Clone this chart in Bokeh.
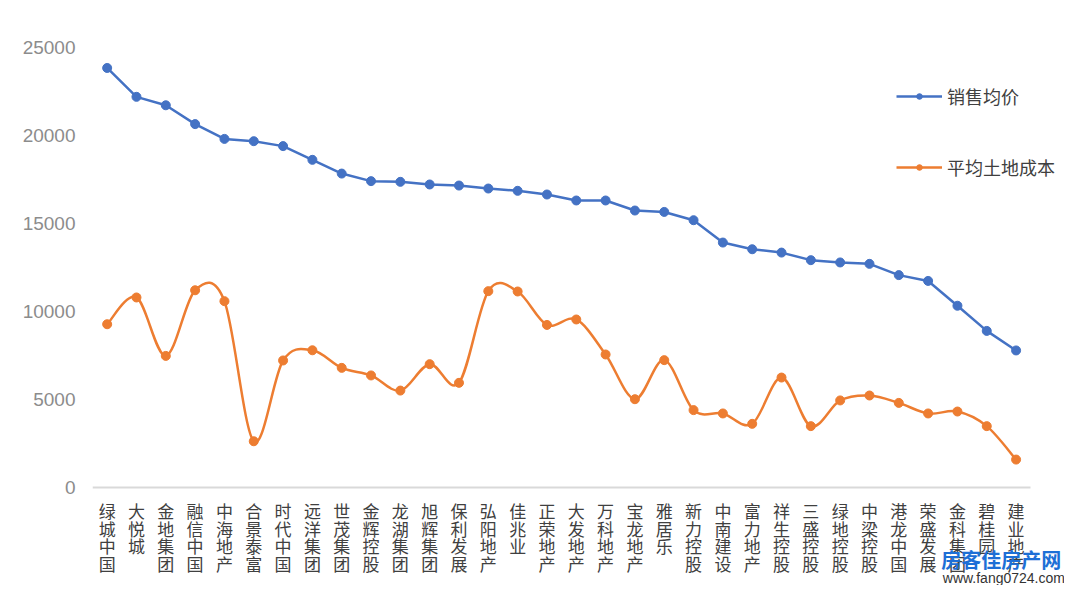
from bokeh.plotting import figure
from bokeh.models import Range1d, FixedTicker, Legend, LegendItem, Label
from bokeh.embed import file_html
from bokeh.resources import INLINE

companies = ["绿城中国", "大悦城", "金地集团", "融信中国", "中海地产", "合景泰富", "时代中国", "远洋集团",
             "世茂集团", "金辉控股", "龙湖集团", "旭辉集团", "保利发展", "弘阳地产", "佳兆业", "正荣地产",
             "大发地产", "万科地产", "宝龙地产", "雅居乐", "新力控股", "中南建设", "富力地产", "祥生控股",
             "三盛控股", "绿地控股", "中梁控股", "港龙中国", "荣盛发展", "金科集团", "碧桂园", "建业地产"]

sales_price = [23820, 22180, 21700, 20630, 19790, 19660, 19380, 18600,
               17820, 17390, 17350, 17200, 17140, 16970, 16840, 16630,
               16290, 16290, 15720, 15640, 15170, 13900, 13520, 13330,
               12900, 12770, 12690, 12050, 11720, 10310, 8880, 7770]

land_cost = [9260, 10780, 7460, 11190, 10570, 2610, 7200, 7780,
             6780, 6350, 5490, 6990, 5930, 11140, 11120, 9220,
             9530, 7540, 5000, 7220, 4380, 4190, 3600, 6230,
             3470, 4930, 5210, 4790, 4190, 4300, 3470, 1570]

y_ticks = [0, 5000, 10000, 15000, 20000, 25000]

BLUE = "#4472C4"
ORANGE = "#ED7D31"
n = len(companies)
xs = list(range(n))

W, H = 1064, 585
LEFT = 92
PX_X = 29.32          # pixels per category
PX_Y = 0.0176         # pixels per value unit
ZERO_Y = 486.7        # pixel row of value 0
x_end = -0.5 + (W - LEFT) / PX_X
y_top = ZERO_Y / PX_Y
y_bot = -(H - ZERO_Y) / PX_Y

p = figure(width=W, height=H, output_backend="svg", toolbar_location=None,
           x_range=Range1d(-0.5, x_end), y_range=Range1d(y_bot, y_top),
           min_border_left=LEFT, min_border_right=0, min_border_top=0, min_border_bottom=0)
p.outline_line_color = None
p.xgrid.visible = False
p.ygrid.visible = False
p.background_fill_color = "white"

# x axis placed at value 0 inside the frame
p.xaxis.fixed_location = 0
p.xaxis.bounds = (-0.5, n - 0.5)
p.xaxis.ticker = FixedTicker(ticks=xs)
p.xaxis.major_label_overrides = {i: "\n".join(list(c)) for i, c in enumerate(companies)}
p.xaxis.major_tick_line_color = None
p.xaxis.minor_tick_line_color = None
p.xaxis.axis_line_color = "#d9d9d9"
p.xaxis.axis_line_width = 2
p.xaxis.major_label_text_font = "Noto Sans CJK SC"
p.xaxis.major_label_text_font_size = "17px"
p.xaxis.major_label_text_color = "#404040"
p.xaxis.major_label_text_line_height = 0.7
p.xaxis.major_label_standoff = 5

# y axis
p.yaxis.ticker = FixedTicker(ticks=y_ticks)
p.yaxis.axis_line_color = None
p.yaxis.major_tick_line_color = None
p.yaxis.minor_tick_line_color = None
p.yaxis.major_label_text_font = "Liberation Sans"
p.yaxis.major_label_text_font_size = "19px"
p.yaxis.major_label_text_color = "#8c8c8c"
p.yaxis.major_label_standoff = 11

# blue straight line
bl = p.line(xs, sales_price, line_color=BLUE, line_width=2.5)
bs = p.scatter(xs, sales_price, size=9, fill_color=BLUE, line_color=BLUE)

# orange smoothed line (Catmull-Rom style bezier segments through the data points)
x0s, y0s, x1s, y1s, cx0s, cy0s, cx1s, cy1s = [], [], [], [], [], [], [], []
for i in range(n - 1):
    ip = max(i - 1, 0)
    inx = min(i + 2, n - 1)
    x0s.append(xs[i]); y0s.append(land_cost[i])
    x1s.append(xs[i + 1]); y1s.append(land_cost[i + 1])
    cx0s.append(xs[i] + (xs[i + 1] - xs[ip]) / 6.0)
    cy0s.append(land_cost[i] + (land_cost[i + 1] - land_cost[ip]) / 6.0)
    cx1s.append(xs[i + 1] - (xs[inx] - xs[i]) / 6.0)
    cy1s.append(land_cost[i + 1] - (land_cost[inx] - land_cost[i]) / 6.0)
p.bezier(x0=x0s, y0=y0s, x1=x1s, y1=y1s, cx0=cx0s, cy0=cy0s, cx1=cx1s, cy1=cy1s,
         line_color=ORANGE, line_width=2.5)
os_ = p.scatter(xs, land_cost, size=9, fill_color=ORANGE, line_color=ORANGE)
ol = p.line(x=xs[:1], y=land_cost[:1], line_color=ORANGE, line_width=2.5)

legend = Legend(items=[LegendItem(label="销售均价", renderers=[bl, bs]),
                       LegendItem(label="平均土地成本", renderers=[ol, os_])],
                location=(804, 405), padding=0, margin=0, spacing=45,
                glyph_width=46, glyph_height=14, label_height=20, label_standoff=5,
                label_text_font="Noto Sans CJK SC", label_text_font_size="18px",
                label_text_color="#404040", border_line_color=None,
                background_fill_alpha=0)
p.add_layout(legend)

# watermark
p.add_layout(Label(x=28.45, y=-4100, text="房客佳房产网", text_font="Noto Sans CJK SC",
                   text_font_style="bold", text_font_size="20px", text_color="#1d6fd6",
                   text_baseline="middle", text_align="left"))
p.add_layout(Label(x=28.5, y=-5150, text="www.fang0724.com", text_font="Liberation Sans",
                   text_font_size="14px", text_color="#333333",
                   text_baseline="middle", text_align="left"))

open("out.html", "w").write(file_html(p, INLINE))
